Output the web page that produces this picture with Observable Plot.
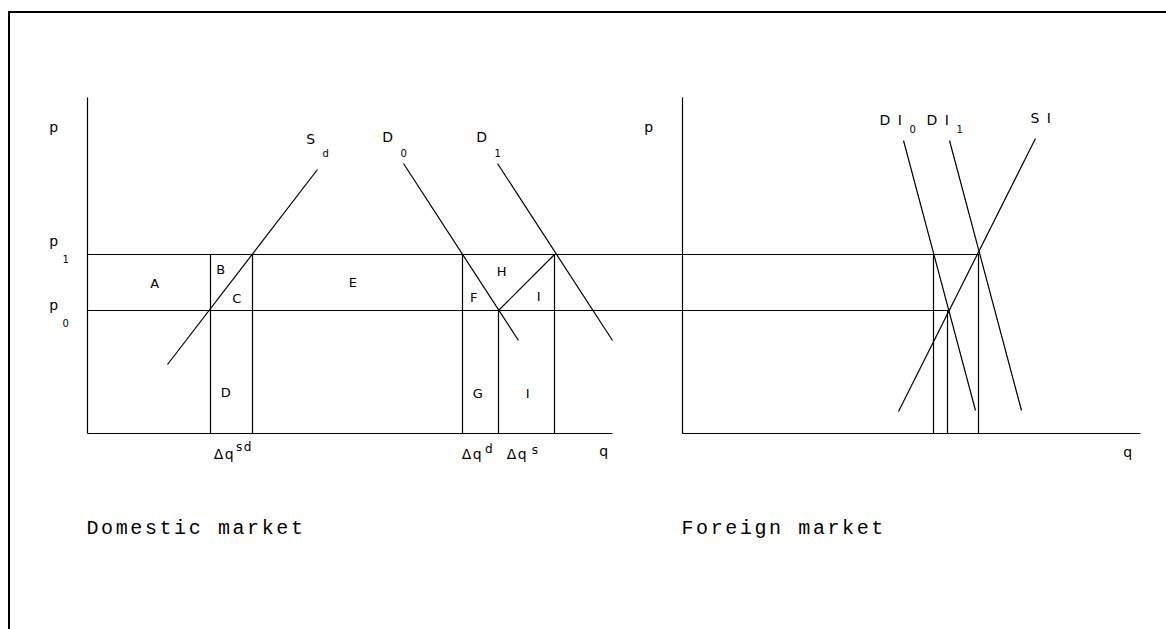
<!DOCTYPE html>
<html>
<head>
<meta charset="utf-8">
<script src="https://cdn.jsdelivr.net/npm/d3@7"></script>
<script src="https://cdn.jsdelivr.net/npm/@observablehq/plot@0.6"></script>
<style>
html, body { margin: 0; padding: 0; background: #fff; overflow: hidden; }
#wrap { position: relative; width: 1166px; height: 629px; }
#frame { position: absolute; left: 8px; top: 11px; width: 1170px; height: 630px;
  border-top: 2px solid #000; border-left: 2px solid #000; pointer-events: none; }
#wrap svg text { letter-spacing: 1.5px; }
#wrap svg text.big { letter-spacing: 2.6px; }
</style>
</head>
<body>
<div id="wrap"><div id="frame"></div></div>
<script>
// Diagram coordinates (x to the right, y downward).
const baseline = 433;

const axisLines = [
  {x1: 87,  y1: 97,  x2: 87,   y2: 433},
  {x1: 87,  y1: 433, x2: 612,  y2: 433},
  {x1: 682, y1: 97,  x2: 682,  y2: 433},
  {x1: 682, y1: 433, x2: 1140, y2: 433}
];

const priceLines = [
  {name: "p1", x1: 87, y1: 254, x2: 978, y2: 254},
  {name: "p0", x1: 87, y1: 310, x2: 947, y2: 310}
];

const curves = [
  {name: "Sd",  x1: 167,  y1: 364, x2: 317,  y2: 169},
  {name: "D0",  x1: 403,  y1: 163, x2: 518,  y2: 340},
  {name: "D1",  x1: 497,  y1: 163, x2: 612,  y2: 340},
  {name: "HI",  x1: 498,  y1: 310, x2: 554,  y2: 254},
  {name: "DI0", x1: 903,  y1: 140, x2: 975,  y2: 410},
  {name: "DI1", x1: 949,  y1: 140, x2: 1021, y2: 410},
  {name: "SI",  x1: 1035, y1: 138, x2: 898,  y2: 411}
];

const quantityDrops = [
  {x: 210, top: 254}, {x: 252, top: 254}, {x: 462, top: 254}, {x: 498, top: 310},
  {x: 554, top: 254}, {x: 933, top: 254}, {x: 947, top: 310}, {x: 978, top: 254}
];

const areaLabels = [
  {text: "A", x: 155, y: 283}, {text: "B", x: 221, y: 269}, {text: "C", x: 237, y: 298},
  {text: "D", x: 226, y: 392}, {text: "E", x: 353, y: 282}, {text: "F", x: 474, y: 297},
  {text: "G", x: 478, y: 393}, {text: "H", x: 502, y: 271}, {text: "I", x: 539, y: 296},
  {text: "I", x: 528, y: 393}
];

const curveLabels = [
  {text: "S",  x: 311,  y: 139}, {text: "D", x: 388, y: 137}, {text: "D", x: 482, y: 137},
  {text: "D I", x: 891, y: 120}, {text: "D I", x: 938, y: 120}, {text: "S I", x: 1041, y: 118},
  {text: "p",  x: 54,   y: 127}, {text: "p", x: 54, y: 241}, {text: "p", x: 54, y: 305},
  {text: "p",  x: 649,  y: 127},
  {text: "q",  x: 604,  y: 451}, {text: "q", x: 1128, y: 452},
  {text: "Δq", x: 224,  y: 454}, {text: "Δq", x: 472, y: 454}, {text: "Δq", x: 517, y: 454}
];

const subscripts = [
  {text: "d", x: 326, y: 153}, {text: "0", x: 404, y: 153}, {text: "1", x: 498, y: 153},
  {text: "0", x: 913, y: 129}, {text: "1", x: 960, y: 129},
  {text: "1", x: 66,  y: 259}, {text: "0", x: 66, y: 323}
];

const superscripts = [
  {text: "sd", x: 244, y: 447}, {text: "d", x: 489, y: 449}, {text: "s", x: 535, y: 450}
];

const panelTitles = [
  {text: "Domestic market", x: 86,  y: 527},
  {text: "Foreign market",  x: 681, y: 527}
];

const font = "DejaVu Sans";
const lineStyle = {stroke: "#000", strokeWidth: 1.2};

const chart = Plot.plot({
  width: 1166,
  height: 629,
  margin: 0,
  x: {domain: [0, 1166], range: [0, 1166], axis: null},
  y: {domain: [0, 629], range: [0, 629], axis: null},
  style: {background: "transparent", fontFamily: font},
  marks: [
    Plot.link(axisLines, {x1: "x1", y1: "y1", x2: "x2", y2: "y2", ...lineStyle}),
    Plot.link(priceLines, {x1: "x1", y1: "y1", x2: "x2", y2: "y2", ...lineStyle}),
    Plot.link(curves, {x1: "x1", y1: "y1", x2: "x2", y2: "y2", ...lineStyle}),
    Plot.ruleX(quantityDrops, {x: "x", y1: "top", y2: () => baseline, ...lineStyle}),
    Plot.text(areaLabels, {x: "x", y: "y", text: "text", fontSize: 13, fontFamily: font, fill: "#000"}),
    Plot.text(curveLabels, {x: "x", y: "y", text: "text", fontSize: 14, fontFamily: font, fill: "#000"}),
    Plot.text(subscripts, {x: "x", y: "y", text: "text", fontSize: 10, fontFamily: font, fill: "#000"}),
    Plot.text(superscripts, {x: "x", y: "y", text: "text", fontSize: 12, fontFamily: font, fill: "#000"}),
    Plot.text(panelTitles, {x: "x", y: "y", text: "text", fontSize: 20, textAnchor: "start",
      fontFamily: "Liberation Mono", fill: "#000"})
  ]
});

document.getElementById("wrap").prepend(chart);
d3.select(chart).selectAll("text").filter(function() {
  return this.getAttribute("font-size") === "20" || this.parentNode.getAttribute("font-size") === "20";
}).classed("big", true);
</script>
</body>
</html>
